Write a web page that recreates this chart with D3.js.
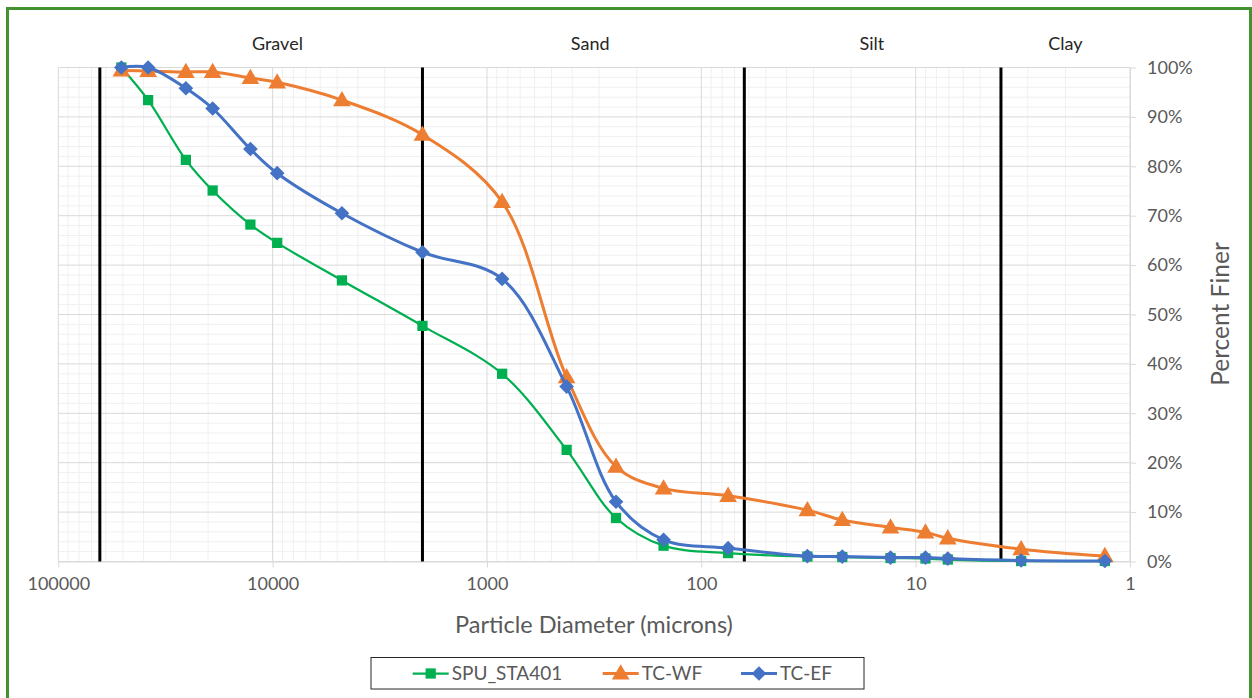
<!DOCTYPE html>
<html>
<head>
<meta charset="utf-8">
<script src="https://cdn.jsdelivr.net/npm/d3@7"></script>
<style>
  html, body { margin: 0; padding: 0; background: #fff; }
  svg { display: block; font-family: Lato, "Open Sans", sans-serif; }
</style>
</head>
<body>
<svg id="chart" width="1252" height="698"></svg>
<script>
// Sieve and hydrometer particle sizes (microns)
const diameters = [50800, 38100, 25400, 19050, 12700, 9525, 4750, 2000, 850, 425, 250, 150, 75, 32, 22, 13.1, 9.0, 7.08, 3.22, 1.31];

// Percent finer for each sample
const spuSta401 = [100, 93.4, 81.3, 75.1, 68.2, 64.5, 56.9, 47.7, 38.0, 22.6, 8.8, 3.2, 1.7, 1.0, 0.9, 0.7, 0.6, 0.4, 0.1, 0.1];
const tcWf      = [99.4, 99.3, 99.1, 99.1, 97.9, 97.0, 93.4, 86.4, 72.8, 37.3, 19.2, 14.8, 13.3, 10.4, 8.4, 6.9, 5.9, 4.7, 2.5, 1.1];
const tcEf      = [100, 100, 95.8, 91.7, 83.5, 78.6, 70.5, 62.6, 57.2, 35.4, 12.1, 4.4, 2.7, 1.1, 1.0, 0.8, 0.8, 0.6, 0.2, 0.1];

const seriesNames = ["SPU_STA401", "TC-WF", "TC-EF"];

// Grain size class boundaries (microns) and class names
const classBoundaries = [64000, 2000, 63, 4];
const classNames = ["Gravel", "Sand", "Silt", "Clay"];
const classLabelAt = [9500, 330, 16, 2];

// Axis ticks
const xTicks = [100000, 10000, 1000, 100, 10, 1];
const yTicks = [0, 10, 20, 30, 40, 50, 60, 70, 80, 90, 100];

const svg = d3.select("#chart");
const W = 1252, H = 698;
const plot = { left: 58.3, right: 1130, top: 67.5, bottom: 561.5 };

// Outer frame
svg.append("rect")
  .attr("x", 7.5).attr("y", 8.5)
  .attr("width", W - 9).attr("height", H + 10)
  .attr("fill", "#fff").attr("stroke", "#43912f").attr("stroke-width", 3);

const x = d3.scaleLog().domain([100000, 1]).range([plot.left, plot.right]);
const y = d3.scaleLinear().domain([0, 100]).range([plot.bottom, plot.top]);

// Minor grid
const minorX = [];
for (let e = 0; e < 5; e++) for (let m = 2; m <= 9; m++) minorX.push(m * Math.pow(10, e));
const minorY = d3.range(0, 101, 2).filter(v => v % 10 !== 0);

const grid = svg.append("g");
grid.selectAll(".mx").data(minorX).join("line")
  .attr("x1", d => x(d)).attr("x2", d => x(d))
  .attr("y1", plot.top).attr("y2", plot.bottom)
  .attr("stroke", "#f0f0f0").attr("stroke-width", 1);
grid.selectAll(".my").data(minorY).join("line")
  .attr("x1", plot.left).attr("x2", plot.right)
  .attr("y1", d => y(d)).attr("y2", d => y(d))
  .attr("stroke", "#f0f0f0").attr("stroke-width", 1);
// Major grid
grid.selectAll(".Mx").data(xTicks).join("line")
  .attr("x1", d => x(d)).attr("x2", d => x(d))
  .attr("y1", plot.top).attr("y2", plot.bottom)
  .attr("stroke", "#d9d9d9").attr("stroke-width", 1);
grid.selectAll(".My").data(yTicks).join("line")
  .attr("x1", plot.left).attr("x2", plot.right)
  .attr("y1", d => y(d)).attr("y2", d => y(d))
  .attr("stroke", "#d9d9d9").attr("stroke-width", 1);

// Bottom axis
const xAxis = d3.axisBottom(x).tickValues(xTicks).tickFormat(d3.format("d")).tickSizeInner(6).tickSizeOuter(0).tickPadding(10);
const gx = svg.append("g").attr("transform", `translate(0,${plot.bottom})`).call(xAxis);
gx.select(".domain").attr("stroke", "#d9d9d9");
gx.selectAll(".tick line").attr("stroke", "#d9d9d9");
gx.selectAll(".tick text").attr("fill", "#595959").attr("font-size", 18).attr("font-family", "Lato");

// Right axis
const yAxis = d3.axisRight(y).tickValues(yTicks).tickFormat(d => d + "%").tickSizeInner(6).tickSizeOuter(0).tickPadding(11);
const gy = svg.append("g").attr("transform", `translate(${plot.right},0)`).call(yAxis);
gy.select(".domain").attr("stroke", "#d9d9d9");
gy.selectAll(".tick line").attr("stroke", "#d9d9d9");
gy.selectAll(".tick text").attr("fill", "#595959").attr("font-size", 18).attr("font-family", "Lato");

// Axis titles
svg.append("text")
  .attr("x", 594).attr("y", 633)
  .attr("text-anchor", "middle").attr("font-size", 23.5).attr("fill", "#595959")
  .text("Particle Diameter (microns)");
svg.append("text")
  .attr("transform", "translate(1229,314) rotate(-90)")
  .attr("text-anchor", "middle").attr("font-size", 24.5).attr("fill", "#595959")
  .text("Percent Finer");

// Class boundaries
svg.append("g").selectAll("line").data(classBoundaries).join("line")
  .attr("x1", d => x(d)).attr("x2", d => x(d))
  .attr("y1", plot.top).attr("y2", plot.bottom)
  .attr("stroke", "#000").attr("stroke-width", 3);
svg.append("g").selectAll("text").data(classNames).join("text")
  .attr("x", (d, i) => x(classLabelAt[i])).attr("y", 50)
  .attr("text-anchor", "middle").attr("font-size", 18).attr("fill", "#262626")
  .text(d => d);

// Series
const colors = ["#00b050", "#ed7d31", "#4472c4"];
const widths = [2.25, 3, 3];
const values = [spuSta401, tcWf, tcEf];
const line = d3.line().curve(d3.curveCatmullRom.alpha(0.5));

const square = d3.symbol().type(d3.symbolSquare).size(105);
const triangle = d3.symbol().type(d3.symbolTriangle).size(135);
const diamond = d3.symbol().type(d3.symbolSquare).size(108);

function marker(sel, i) {
  if (i === 0) sel.append("path").attr("d", square());
  else if (i === 1) sel.append("path").attr("d", triangle()).attr("transform", "translate(0,1)");
  else sel.append("path").attr("d", diamond()).attr("transform", "rotate(45)");
}

values.forEach((vals, i) => {
  const pts = diameters.map((d, k) => [x(d), y(vals[k])]);
  svg.append("path")
    .attr("d", line(pts))
    .attr("fill", "none").attr("stroke", colors[i]).attr("stroke-width", widths[i])
    .attr("stroke-linejoin", "round");
  const g = svg.append("g").attr("fill", colors[i]);
  pts.forEach(p => {
    const m = g.append("g").attr("transform", `translate(${p[0]},${p[1]})`);
    marker(m, i);
  });
});

// Legend
const legend = svg.append("g");
legend.append("rect")
  .attr("x", 371).attr("y", 657.5).attr("width", 493).attr("height", 31.5)
  .attr("fill", "#fff").attr("stroke", "#262626").attr("stroke-width", 1);
const legendX = [412.7, 602.7, 741];
seriesNames.forEach((name, i) => {
  const lx = legendX[i];
  const cy = 673.5;
  legend.append("line")
    .attr("x1", lx).attr("x2", lx + 36).attr("y1", cy).attr("y2", cy)
    .attr("stroke", colors[i]).attr("stroke-width", widths[i]);
  const m = legend.append("g").attr("fill", colors[i]).attr("transform", `translate(${lx + 18},${cy})`);
  marker(m, i);
  legend.append("text")
    .attr("x", lx + 39).attr("y", cy).attr("dy", "0.35em")
    .attr("font-size", 19).attr("fill", "#595959")
    .text(name);
});
</script>
</body>
</html>
